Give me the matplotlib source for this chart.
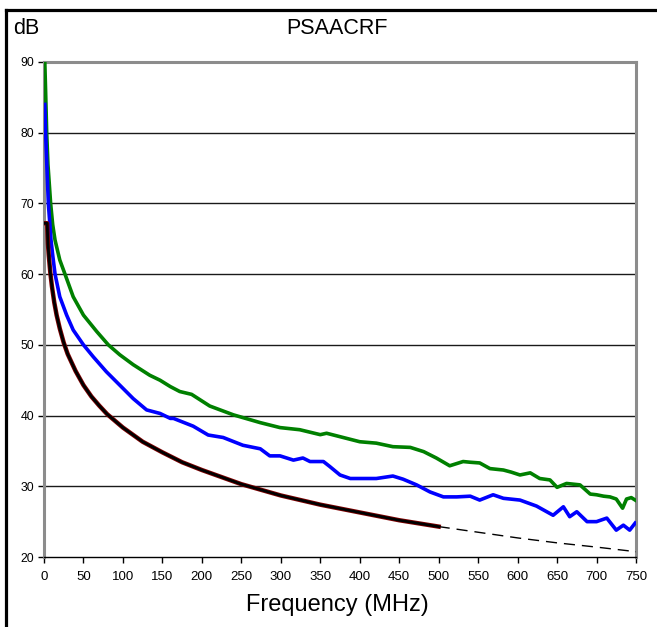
import matplotlib
matplotlib.use("Agg")
import matplotlib.pyplot as plt
from matplotlib.lines import Line2D

plt.rcParams['font.family'] = ['Liberation Sans', 'DejaVu Sans']

# ---- data ----
green_f = [1, 2, 3.4, 5, 8.4, 11, 14, 20, 26.6, 37, 50, 66.7, 81.5, 96, 113, 134, 147, 160, 172, 187,
           210, 240, 274, 299, 324, 350, 358, 379, 400, 421, 442, 464, 481, 497, 514, 531, 540,
           552, 565, 582, 592, 603, 616, 628, 641, 650, 662, 679, 692, 700, 709, 717, 725, 733,
           738, 744, 749]
green_db = [90, 86, 80, 75.5, 70, 67.0, 64.8, 62.0, 60.0, 56.8, 54.2, 51.9, 50.0, 48.6, 47.2, 45.7,
            45.0, 44.1, 43.4, 43.0, 41.35, 40.1, 39.0, 38.3, 38.0, 37.3, 37.5, 36.9, 36.3, 36.1,
            35.6, 35.5, 34.9, 34.0, 32.9, 33.5, 33.4, 33.3, 32.5, 32.3, 32.0, 31.6, 31.9, 31.1,
            30.9, 29.85, 30.4, 30.2, 28.9, 28.8, 28.6, 28.5, 28.2, 26.9, 28.2, 28.4, 28.05]

blue_f = [1, 2, 5.5, 8.9, 11, 14, 20, 28.7, 37, 50, 62.5, 79, 96, 113, 130, 147, 160, 164, 189,
          208, 227, 252, 274, 286, 299, 316, 328, 337, 354, 362, 375, 388, 404, 421, 442, 455,
          472, 489, 506, 523, 540, 552, 569, 582, 603, 624, 645, 658, 666, 675, 688, 700, 713,
          725, 734, 742, 749]
blue_db = [84, 80, 70, 64.8, 62.7, 60.0, 56.8, 54.2, 52.1, 50.0, 48.3, 46.2, 44.3, 42.4, 40.8,
           40.3, 39.6, 39.6, 38.5, 37.25, 36.9, 35.8, 35.3, 34.3, 34.3, 33.7, 34.0, 33.5, 33.5,
           32.8, 31.6, 31.1, 31.1, 31.1, 31.45, 31.0, 30.2, 29.2, 28.5, 28.5, 28.6, 28.05, 28.8,
           28.3, 28.05, 27.2, 25.9, 27.1, 25.7, 26.4, 25.0, 25.0, 25.5, 23.8, 24.5, 23.8, 24.8]

black_f = [1.5, 4, 5, 6, 8, 10, 13, 16, 20, 25, 30, 40, 50, 60, 70, 80, 100, 125, 150, 175, 200,
           250, 300, 350, 400, 450, 500]
black_db = [67.2, 67.2, 64.3, 62.7, 60.2, 58.3, 56.0, 54.2, 52.3, 50.3, 48.7, 46.3, 44.3, 42.7,
            41.4, 40.2, 38.3, 36.3, 34.8, 33.4, 32.3, 30.3, 28.7, 27.4, 26.3, 25.2, 24.3]

dash_f = [500, 550, 600, 650, 700, 750]
dash_db = [24.3, 23.5, 22.7, 22.0, 21.4, 20.75]

xticks = list(range(0, 751, 50))
yticks = list(range(20, 91, 10))

# ---- figure ----
W, H = 657, 627
fig = plt.figure(figsize=(W / 100, H / 100), dpi=100)
ax = fig.add_axes([44 / W, 1 - 557 / H, (636 - 44) / W, (557 - 62) / H])

for y in yticks[1:-1]:
    ax.axhline(y, color='#1a1a1a', lw=1.0, zorder=1)

ax.plot(green_f, green_db, color='#008000', lw=2.6, zorder=3)
ax.plot(blue_f, blue_db, color='#0000ff', lw=2.6, zorder=3)
ax.plot(black_f, black_db, color='#800000', lw=3.2, zorder=4)
ax.plot(black_f, black_db, color='#000000', lw=2.0, zorder=5)
ax.plot(dash_f, dash_db, color='#000000', lw=1.0, ls=(0, (8, 5)), zorder=4)

ax.set_xlim(0, 750)
ax.set_ylim(20, 90)
ax.set_xticks(xticks)
ax.set_yticks(yticks)
ax.tick_params(axis='both', direction='out', length=4, width=1, color='black', pad=3)
ax.tick_params(axis='x', pad=6, labelsize=9.5)
ax.tick_params(axis='y', labelsize=8.8)

for side in ('top', 'right', 'left'):
    ax.spines[side].set_color('#8c8c8c')
    ax.spines[side].set_linewidth(2.2)
ax.spines['bottom'].set_color('black')
ax.spines['bottom'].set_linewidth(1.0)

fig.text(337 / W, 1 - 29 / H, 'PSAACRF', ha='center', va='center', fontsize=15.5)
fig.text(13 / W, 1 - 29 / H, 'dB', ha='left', va='center', fontsize=15.5)
fig.text(337 / W, 1 - 605 / H, 'Frequency (MHz)', ha='center', va='center', fontsize=17)

# figure frame (left and top)
fig.add_artist(Line2D([6 / W, 6 / W], [0, 1 - 9.5 / H], transform=fig.transFigure,
                      color='black', lw=2.3, solid_capstyle='projecting'))
fig.add_artist(Line2D([6 / W, 1], [1 - 9.5 / H, 1 - 9.5 / H], transform=fig.transFigure,
                      color='black', lw=2.3, solid_capstyle='projecting'))

fig.savefig('out.png', dpi=100)
